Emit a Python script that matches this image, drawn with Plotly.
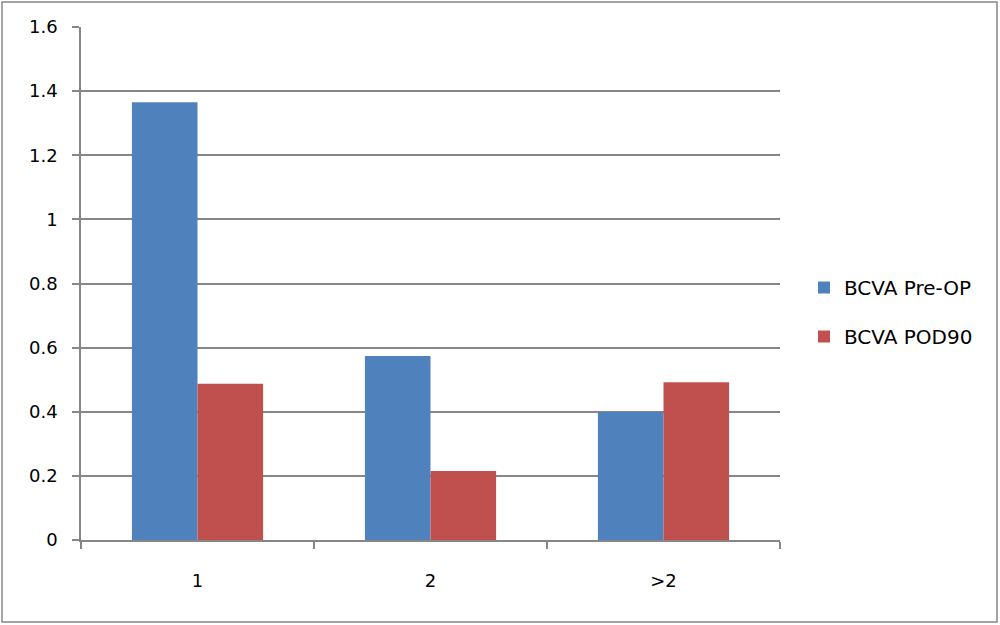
import plotly.graph_objects as go

categories = ["1", "2", ">2"]
pre_op = [1.365, 0.574, 0.399]
pod90 = [0.487, 0.215, 0.492]
y_ticks = [0, 0.2, 0.4, 0.6, 0.8, 1.0, 1.2, 1.4, 1.6]
y_tick_labels = ["0", "0.2", "0.4", "0.6", "0.8", "1", "1.2", "1.4", "1.6"]

W, H = 1000, 625
L, R, T, B = 81, 220, 27, 85
pw, ph = W - L - R, H - T - B

fig = go.Figure()
fig.add_trace(go.Bar(x=categories, y=pre_op, name="BCVA Pre-OP",
                     marker=dict(color="#4F81BD", line=dict(width=0)),
                     legendgroup="a"))
fig.add_trace(go.Bar(x=categories, y=pod90, name="BCVA POD90",
                     marker=dict(color="#C0504D", line=dict(width=0)),
                     legendgroup="b"))

fig.update_layout(
    width=W, height=H,
    margin=dict(l=L, r=R, t=T, b=B, pad=0),
    paper_bgcolor="white", plot_bgcolor="white",
    barmode="group", bargap=0.437, bargroupgap=0,
    font=dict(family="DejaVu Sans", size=18, color="black"),
    showlegend=True,
    legend=dict(x=(804 - L) / pw, y=(540 - 312) / ph, xanchor="left", yanchor="middle",
                traceorder="grouped", tracegroupgap=20,
                font=dict(family="DejaVu Sans", size=20, color="black"),
                bgcolor="rgba(0,0,0,0)"),
    xaxis=dict(type="category", showgrid=False, showline=True, linecolor="#868686",
               linewidth=1.5, ticks="outside", tickson="boundaries", ticklen=7,
               tickcolor="#868686", tickwidth=1.5, tickfont=dict(size=18),
               ticklabelstandoff=24),
    yaxis=dict(range=[0, 1.6], tickvals=y_ticks, ticktext=y_tick_labels,
               showgrid=True, gridcolor="#868686", gridwidth=1.5,
               showline=True, linecolor="#868686", linewidth=1.5,
               ticks="outside", ticklen=7, tickcolor="#868686", tickwidth=1.5,
               zeroline=False, tickfont=dict(size=18), ticklabelstandoff=11),
)

# outer chart border
fig.add_shape(type="rect", xref="paper", yref="paper",
              x0=(2 - L) / pw, x1=(997 - L) / pw,
              y0=(540 - 622) / ph, y1=(540 - 2) / ph,
              line=dict(color="#868686", width=1.5), fillcolor="rgba(0,0,0,0)",
              layer="below")

fig.write_html("out.html", config={"displayModeBar": False},
               post_script="document.body.style.margin='0';")
